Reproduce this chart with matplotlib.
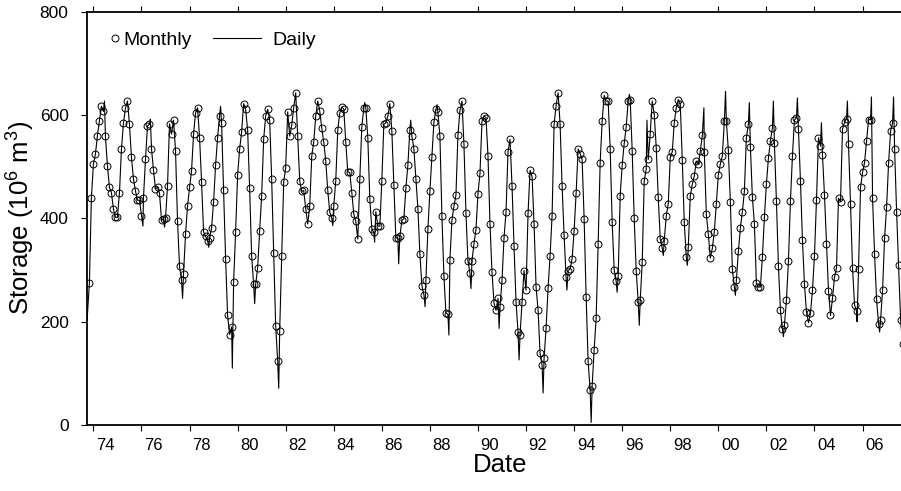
import numpy as np
import matplotlib
matplotlib.use('Agg')
import matplotlib.pyplot as plt

plt.rcParams['font.family'] = ['Liberation Sans', 'DejaVu Sans']
plt.rcParams['mathtext.default'] = 'regular'

# monthly storage (10^6 m3), end of month, Oct 1973 .. Aug 2007
first_year, first_month = 1973, 10
monthly_storage = [
    275, 440, 505,
    524, 560, 588, 617, 607, 559, 502, 460, 450, 418, 402, 402,   # 1974
    449, 534, 584, 613, 627, 582, 518, 476, 453, 435, 435, 405,   # 1975
    440, 514, 579, 582, 535, 493, 457, 460, 449, 396, 399, 400,   # 1976
    463, 583, 563, 590, 531, 394, 307, 280, 293, 370, 424, 460,   # 1977
    492, 563, 604, 614, 556, 471, 374, 365, 357, 362, 381, 432,   # 1978
    503, 556, 599, 584, 455, 322, 212, 175, 190, 277, 374, 484,   # 1979
    534, 567, 622, 611, 571, 458, 327, 272, 272, 304, 376, 444,   # 1980
    553, 598, 611, 590, 476, 333, 192, 124, 182, 327, 470, 498,   # 1981
    606, 559, 580, 614, 643, 559, 473, 452, 454, 419, 389, 424,   # 1982
    520, 548, 598, 627, 608, 575, 548, 511, 454, 412, 400, 424,   # 1983
    473, 571, 604, 615, 612, 547, 490, 489, 450, 408, 394, 360,   # 1984
    476, 577, 614, 614, 556, 437, 379, 373, 413, 385, 385, 473,   # 1985
    582, 585, 598, 622, 569, 464, 362, 362, 365, 396, 399, 458,   # 1986
    503, 571, 559, 535, 476, 419, 331, 270, 252, 280, 379, 453,   # 1987
    518, 586, 611, 605, 559, 404, 288, 217, 214, 320, 397, 423,   # 1988
    445, 561, 609, 627, 543, 410, 317, 294, 317, 351, 378, 448,   # 1989
    487, 588, 598, 595, 521, 389, 296, 236, 222, 245, 229, 280,   # 1990
    362, 412, 529, 553, 463, 346, 238, 180, 175, 238, 299, 261,   # 1991
    410, 493, 481, 390, 267, 223, 139, 116, 129, 187, 265, 328,   # 1992
    405, 582, 618, 643, 582, 463, 367, 286, 299, 302, 322, 376,   # 1993
    449, 534, 525, 514, 399, 248, 123, 68, 76, 145, 207, 351,     # 1994
    508, 588, 638, 627, 627, 535, 392, 300, 278, 288, 444, 503,   # 1995
    545, 577, 627, 630, 530, 400, 299, 238, 241, 315, 473, 495,   # 1996
    514, 564, 627, 601, 537, 441, 360, 342, 357, 405, 428, 518,   # 1997
    529, 585, 614, 630, 622, 513, 392, 325, 344, 444, 466, 482,   # 1998
    511, 505, 530, 561, 529, 408, 370, 323, 342, 374, 428, 484,   # 1999
    505, 521, 588, 588, 532, 432, 302, 267, 280, 336, 381, 413,   # 2000
    452, 556, 582, 539, 441, 390, 275, 267, 267, 325, 402, 467,   # 2001
    516, 550, 575, 545, 434, 308, 223, 185, 193, 241, 317, 433,   # 2002
    521, 590, 595, 573, 473, 358, 272, 219, 198, 216, 261, 328,   # 2003
    435, 556, 540, 522, 445, 351, 260, 212, 245, 286, 304, 439,   # 2004
    432, 573, 586, 593, 543, 428, 304, 233, 220, 302, 460, 489,   # 2005
    508, 550, 591, 591, 439, 331, 243, 195, 203, 261, 362, 421,   # 2006
    507, 569, 585, 535, 413, 310, 203, 157,                       # 2007
]

# daily series extremes that fall between the monthly values (decimal year, storage)
extreme_years = [1973.74, 1974.46, 1976.06, 1976.37, 1976.96, 1977.71, 1978.80,
                 1979.29, 1979.78, 1980.71, 1981.71, 1983.96, 1985.29, 1985.70,
                 1986.70, 1987.20, 1987.80, 1988.30, 1988.79, 1989.71, 1990.88,
                 1991.71, 1992.71, 1993.70, 1994.71, 1995.79, 1996.30, 1996.71,
                 1997.03, 1997.71, 1998.71, 1999.40, 2000.30, 2000.71, 2001.29,
                 2002.29, 2002.71, 2003.29, 2004.29, 2005.37, 2005.77, 2006.37,
                 2006.71, 2007.29]
extreme_storage = [205, 627, 385, 592, 383, 245, 344,
                   617, 110, 235, 71, 386, 624, 354,
                   312, 590, 229, 620, 174, 264, 187,
                   126, 62, 261, 5, 257, 640, 193,
                   590, 328, 309, 614, 646, 251, 624,
                   627, 171, 633, 585, 627, 200, 635,
                   180, 635]

tick_years = list(range(1974, 2007, 2))
tick_labels = ['%02d' % (y % 100) for y in tick_years]

n = len(monthly_storage)
monthly_years = first_year + (first_month + np.arange(n)) / 12.0

daily_years = np.concatenate([monthly_years, extreme_years])
daily_storage = np.concatenate([monthly_storage, extreme_storage])
order = np.argsort(daily_years)

fig = plt.figure(figsize=(9.01, 4.91), dpi=100)
ax = fig.add_axes([0.0962, 0.1344, 0.9038, 0.8418])

daily_line, = ax.plot(daily_years[order], daily_storage[order], color='black',
                      lw=0.8, label='Daily')
monthly_pts, = ax.plot(monthly_years, monthly_storage, 'o', ms=5, mfc='none',
                       mec='black', mew=0.7, label='Monthly')

ax.set_xlim(1973.72, 2007.60)
ax.set_ylim(0, 800)

ax.set_xticks(tick_years)
ax.set_xticklabels([])
ax.set_xticks([y + 0.5 for y in tick_years], minor=True)
ax.set_xticklabels(tick_labels, minor=True, fontsize=12)
ax.tick_params(axis='x', which='major', top=True, bottom=True, direction='out',
               length=4, width=0.8)
ax.tick_params(axis='x', which='minor', length=0, pad=9)
ax.set_yticks([0, 200, 400, 600, 800])
ax.tick_params(axis='y', direction='out', length=4, width=0.8, labelsize=12.5, pad=9)

ax.spines['right'].set_visible(False)
for s in ['left', 'bottom', 'top']:
    ax.spines[s].set_linewidth(1.3)

ax.set_xlabel('Date', fontsize=18.5)
ax.xaxis.set_label_coords(0.5076, -0.068)
ax.set_ylabel('Storage (10$^6$ m$^3$)', fontsize=18.5)
ax.yaxis.set_label_coords(-0.061, 0.5)

leg1 = ax.legend(handles=[monthly_pts], loc='center left', bbox_to_anchor=(0.0289, 0.9315),
                 frameon=False, handlelength=0.5, handletextpad=0.16, borderpad=0,
                 borderaxespad=0, fontsize=14, numpoints=1)
ax.add_artist(leg1)
ax.legend(handles=[daily_line], loc='center left', bbox_to_anchor=(0.1551, 0.9315),
          frameon=False, handlelength=2.47, handletextpad=0.57, borderpad=0,
          borderaxespad=0, fontsize=14)

fig.savefig('out.png', dpi=100)
